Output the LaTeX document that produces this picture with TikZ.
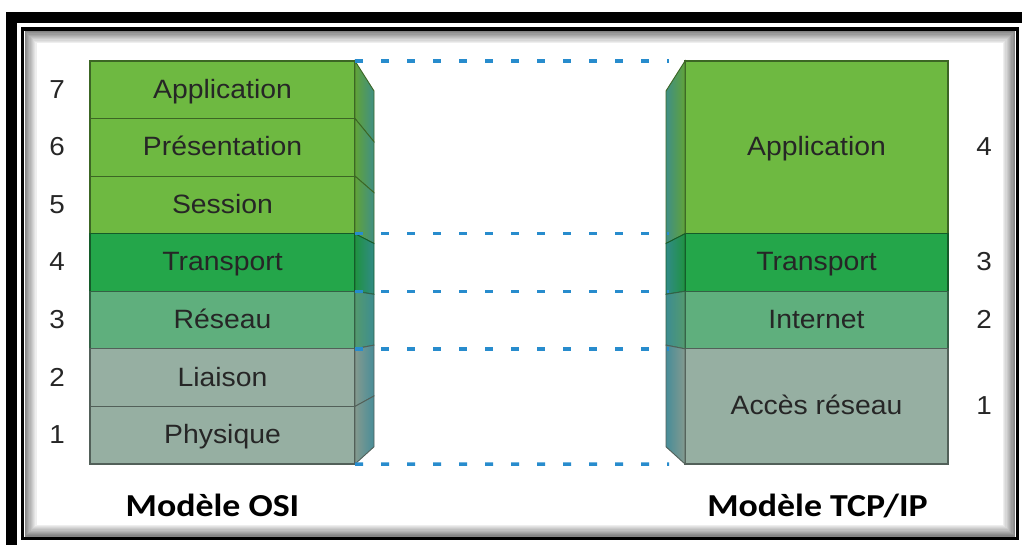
\documentclass[tikz,border=0pt]{standalone}
\usepackage{fontspec}
\newfontfamily\layerfont{Liberation Sans}[FakeStretch=1.07]
\newfontfamily\titlefont{Carlito}[FakeStretch=1.12]

\definecolor{appgreen}{RGB}{110,185,65}
\definecolor{trgreen}{RGB}{36,166,74}
\definecolor{netgreen}{RGB}{95,175,125}
\definecolor{linkgray}{RGB}{150,175,162}
\definecolor{sideteal}{RGB}{52,132,150}
\definecolor{dashblue}{RGB}{40,140,205}
\definecolor{textgray}{RGB}{38,38,38}

\tikzset{
  layer/.style={draw=#1!55!black, fill=#1, line width=1.1pt,
    minimum width=265pt, minimum height=57.57pt,
    inner sep=0pt, outer sep=0pt, anchor=north west,
    text height=21pt, text depth=4pt,
    font=\layerfont\fontsize{26.5}{30}\selectfont, text=textgray},
  number/.style={inner sep=0pt, text height=21pt, text depth=4pt,
    font=\layerfont\fontsize{26}{30}\selectfont, text=textgray},
  title/.style={inner sep=0pt, anchor=base,
    font=\titlefont\bfseries\fontsize{32}{36}\selectfont, text=black},
  linkdash/.style={draw=dashblue, line width=3.5pt, dash pattern=on 8pt off 18pt},
}

\begin{document}
\begin{tikzpicture}[x=1pt,y=-1pt]
\useasboundingbox (0,0) rectangle (1022,545);
\fill[white] (0,0) rectangle (1022,545);

% outer frame bands
\fill[black] (6,12) rectangle (1022,23);
\fill[black] (6,12) rectangle (17,545);

% inner soft shadow
\foreach \i [evaluate=\i as \g using 48-4.6*\i,
             evaluate=\i as \o using 0.6+1.2*\i] in {0,...,9}
  \draw[black!\g, line width=1.2pt]
    (24.5+\o,31+\o) rectangle (1015-\o,536.5-\o);

% inner frame line
\draw[black, line width=3.5pt] (22.5,29) rectangle (1017.5,538.5);

% OSI model layers
\node[layer=appgreen] (osi7) at (90,61)     {Application};
\node[layer=appgreen] (osi6) at (90,118.57) {Présentation};
\node[layer=appgreen] (osi5) at (90,176.14) {Session};
\node[layer=trgreen]  (osi4) at (90,233.71) {Transport};
\node[layer=netgreen] (osi3) at (90,291.29) {Réseau};
\node[layer=linkgray] (osi2) at (90,348.86) {Liaison};
\node[layer=linkgray] (osi1) at (90,406.43) {Physique};

% OSI side faces (perspective)
\foreach \n/\ta/\tb/\c in {osi7/90.95/141.79/appgreen, osi6/141.79/192.62/appgreen,
    osi5/192.62/243.46/appgreen, osi4/243.46/294.30/trgreen,
    osi3/294.30/345.13/netgreen, osi2/345.13/395.97/linkgray,
    osi1/395.97/446.80/linkgray}
  \path[draw=\c!55!black, line width=0.9pt, left color=\c!88!black,
        right color=sideteal!80!\c]
    (\n.north east) -- (374,\ta) -- (374,\tb) -- (\n.south east) -- cycle;

% TCP/IP model layers
\node[layer=appgreen, minimum width=263pt, minimum height=172.71pt] (tcp4) at (685,61) {Application};
\node[layer=trgreen,  minimum width=263pt] (tcp3) at (685,233.71) {Transport};
\node[layer=netgreen, minimum width=263pt] (tcp2) at (685,291.29) {Internet};
\node[layer=linkgray, minimum width=263pt, minimum height=115.14pt] (tcp1) at (685,348.86) {Accès réseau};

% TCP/IP side faces (perspective)
\foreach \n/\ta/\tb/\c in {tcp4/90.95/243.46/appgreen, tcp3/243.46/294.30/trgreen,
    tcp2/294.30/345.13/netgreen, tcp1/345.13/446.80/linkgray}
  \path[draw=\c!55!black, line width=0.9pt, left color=sideteal!80!\c,
        right color=\c!88!black]
    (\n.north west) -- (666,\ta) -- (666,\tb) -- (\n.south west) -- cycle;

% correspondence lines
\draw[linkdash] (osi7.north east) -- ([xshift=-16pt]tcp4.north west);
\draw[linkdash] (osi4.north east) -- ([xshift=-16pt]tcp3.north west);
\draw[linkdash] (osi3.north east) -- ([xshift=-16pt]tcp2.north west);
\draw[linkdash] (osi2.north east) -- ([xshift=-16pt]tcp1.north west);
\draw[linkdash] (osi1.south east) -- ([xshift=-16pt]tcp1.south west);

% layer numbers
\node[number] (n7) at (57,89.8)  {7};
\node[number] (n6) at (57,147.4) {6};
\node[number] (n5) at (57,204.9) {5};
\node[number] (n4) at (57,262.5) {4};
\node[number] (n3) at (57,320.1) {3};
\node[number] (n2) at (57,377.6) {2};
\node[number] (n1) at (57,435.2) {1};

\node[number] (m4) at (984,147.4) {4};
\node[number] (m3) at (984,262.5) {3};
\node[number] (m2) at (984,320.1) {2};
\node[number] (m1) at (984,406.4) {1};

% model titles
\node[title] (tosi) at (212.5,516) {Modèle OSI};
\node[title] (ttcp) at (817.5,516) {Modèle TCP/IP};
\end{tikzpicture}
\end{document}
